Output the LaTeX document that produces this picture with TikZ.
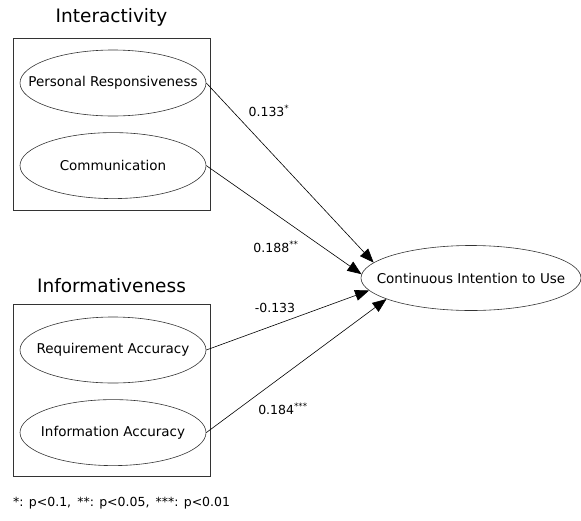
\documentclass[tikz,border=0pt]{standalone}
\usepackage{fontspec}
\setmainfont{DejaVu Sans}
\usetikzlibrary{arrows.meta,positioning,shapes.geometric}

\begin{document}
\begin{tikzpicture}[x=1pt,y=-1pt]
	\tikzstyle{main}=[ellipse, minimum width=186pt, minimum height=66pt, inner sep=0pt, draw=black!80, semithick, font=\fontsize{13.5}{15}\selectfont]
	\tikzstyle{group}=[rectangle, minimum width=197pt, minimum height=172pt, inner sep=0pt, draw=black!80, semithick]
	\tikzstyle{title}=[font=\fontsize{18.5}{22}\selectfont, inner sep=0pt]
	\tikzstyle{coef}=[font=\fontsize{12.5}{14}\selectfont, inner sep=0pt]
	\tikzstyle{connect}=[-{Triangle[length=14pt,width=11pt]}, semithick]
	\useasboundingbox (0,0) rectangle (581,520);
	  % interactivity
	  \node[group] (inter) at (111.5,124) {};
	  \node[title] (t_inter) [above=11pt of inter] {Interactivity};
	  \node[main] (pr) at (113,83) {\makebox[0pt]{Personal Responsiveness}};
	  \node[main] (comm) [below=16pt of pr] {\makebox[0pt]{Communication}};
	  % informativeness
	  \node[group] (info) at (111.5,390.5) {};
	  \node[title] (t_info) [above=11pt of info] {Informativeness};
	  \node[main] (ra) at (113,350) {\makebox[0pt]{Requirement Accuracy}};
	  \node[main] (ia) [below=16pt of ra] {\makebox[0pt]{Information Accuracy}};
	  % outcome
	  \node[main,minimum width=220pt,minimum height=65pt] (ci) at (471,278) {\makebox[0pt]{Continuous Intention to Use}};
	  \path
	    (pr.east) edge [connect] (ci.171)
	    (comm.east) edge [connect] (ci.178)
	    (ra.east) edge [connect] (ci.187)
	    (ia.east) edge [connect] (ci.194);
	  \node[coef] (w_pr) at (269,111) {0.133\textsuperscript{*}};
	  \node[coef] (w_comm) at (276,247) {0.188\textsuperscript{**}};
	  \node[coef] (w_ra) at (275,308) {-0.133};
	  \node[coef] (w_ia) at (283,409) {0.184\textsuperscript{***}};
	  \node[coef,anchor=west] (note) at (13,503) {*: p<0.1,\, **: p<0.05,\, ***: p<0.01};
\end{tikzpicture}
\end{document}
